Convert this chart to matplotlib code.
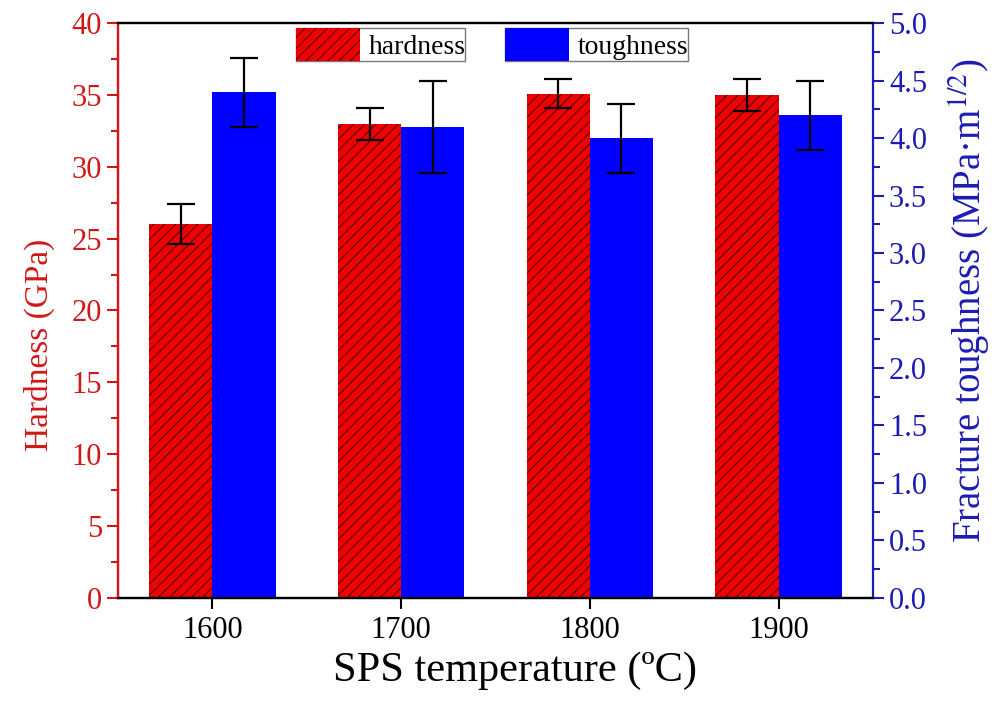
import matplotlib
matplotlib.use('Agg')
import matplotlib.pyplot as plt
import numpy as np
from matplotlib.patches import Patch

plt.rcParams['font.family'] = ['Liberation Serif', 'DejaVu Serif']
plt.rcParams['mathtext.fontset'] = 'stix'
plt.rcParams['hatch.linewidth'] = 0.8

# data
temps = ['1600', '1700', '1800', '1900']
hardness = [26.0, 33.0, 35.1, 35.0]
hardness_err = [1.4, 1.1, 1.0, 1.1]
toughness = [4.4, 4.1, 4.0, 4.2]
toughness_err = [0.3, 0.4, 0.3, 0.3]

red = '#ee0000'
hatch_col = '#5a0000'
blue = '#0000ff'
dred = '#d01818'
dblue = '#1c1cb4'

fig = plt.figure(figsize=(10, 7.04), dpi=100)
ax = fig.add_axes([0.118, 0.151, 0.755, 0.816])
ax2 = ax.twinx()

x = np.arange(len(temps))
w = 0.335
ax.bar(x - w / 2, hardness, w, color=red, edgecolor=hatch_col, linewidth=0,
       hatch='///', zorder=2)
ax.errorbar(x - w / 2, hardness, yerr=hardness_err, fmt='none', ecolor='black',
            elinewidth=1.6, capsize=10, capthick=1.6, zorder=3)
ax2.bar(x + w / 2, toughness, w, color=blue, linewidth=0, zorder=2)
ax2.errorbar(x + w / 2, toughness, yerr=toughness_err, fmt='none', ecolor='black',
             elinewidth=1.6, capsize=10, capthick=1.6, zorder=3)

ax.set_xlim(-0.5, 3.5)
ax.set_ylim(0, 40)
ax2.set_ylim(0, 5)
ax.set_xticks(x)
ax.set_xticklabels(temps)
ax.set_yticks(np.arange(0, 41, 5))
ax.set_yticks(np.arange(2.5, 40, 5), minor=True)
ax2.set_yticks(np.arange(0, 5.01, 0.5))
ax2.set_yticks(np.arange(0.25, 5, 0.5), minor=True)
ax2.set_yticklabels([f'{v:.1f}' for v in np.arange(0, 5.01, 0.5)])

for a in (ax, ax2):
    for s in a.spines.values():
        s.set_linewidth(1.6)
ax2.spines['left'].set_color(dred)
ax2.spines['right'].set_color(dblue)
ax.spines['left'].set_color(dred)
ax.spines['right'].set_visible(False)

ax.tick_params(axis='y', which='major', direction='out', length=8, width=1.5,
               colors=dred, labelsize=22)
ax.tick_params(axis='y', which='minor', direction='out', length=5, width=1.5,
               colors=dred)
ax.tick_params(axis='x', direction='out', length=8, width=1.5, labelsize=22,
               pad=5)
ax2.tick_params(axis='y', which='major', direction='out', length=8, width=1.5,
                colors=dblue, labelsize=22)
ax2.tick_params(axis='y', which='minor', direction='out', length=5, width=1.5,
                colors=dblue)

ax.set_xlabel('SPS temperature (ºC)', fontsize=30.5)
ax.xaxis.set_label_coords(0.526, -0.093)
ax.set_ylabel('Hardness (GPa)', fontsize=24, color=dred)
ax.yaxis.set_label_coords(-0.084, 0.44)
ax2.set_ylabel('Fracture toughness (MPa·m$^{1/2}$)', fontsize=28, color=dblue,
               rotation=90)
ax2.yaxis.set_label_coords(1.098, 0.517)

h1 = Patch(facecolor=red, edgecolor=hatch_col, linewidth=0, hatch='///')
h2 = Patch(facecolor=blue, linewidth=0)
leg_kw = dict(fontsize=20, handlelength=2.3, handleheight=1.45, borderpad=0.0,
              handletextpad=0.3, borderaxespad=0, fancybox=False,
              edgecolor='#777777', framealpha=1)
leg1 = ax2.legend([h1], ['hardness'], loc='upper left',
                  bbox_to_anchor=(0.236, 0.991), **leg_kw)
ax2.add_artist(leg1)
ax2.legend([h2], ['toughness'], loc='upper left',
           bbox_to_anchor=(0.513, 0.991), **leg_kw)

fig.savefig('out.png', dpi=100)
